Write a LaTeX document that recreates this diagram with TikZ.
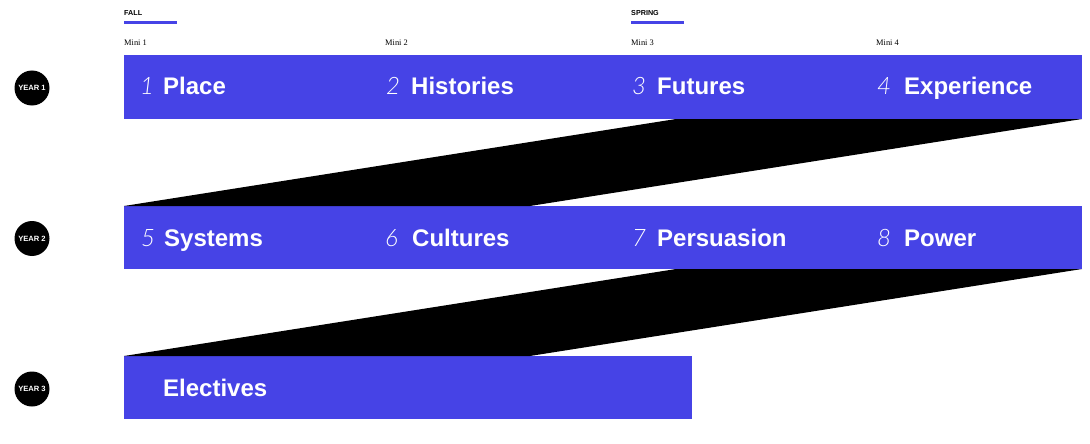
\documentclass[tikz,border=0pt]{standalone}
\usepackage{fontspec}
\setmainfont{Liberation Sans}
\newfontfamily\titlefont{Liberation Sans}
\newfontfamily\numfont{Lato Light}
\newfontfamily\minifont{Liberation Serif}
\definecolor{barblue}{RGB}{70,67,230}
\begin{document}
\begin{tikzpicture}[x=1pt,y=-1pt,
  bar/.style={fill=barblue, inner sep=0pt, outer sep=0pt, anchor=north west, minimum height=64pt},
  yearc/.style={circle, fill=black, text=white, inner sep=0pt, minimum size=35pt, font=\bfseries\fontsize{7.6}{8}\selectfont},
  numtxt/.style={anchor=base west, inner sep=0pt, text=white, font=\numfont\itshape\fontsize{24}{28}\selectfont},
  ttltxt/.style={anchor=base west, inner sep=0pt, text=white, font=\titlefont\bfseries\fontsize{24}{28}\selectfont},
  semtxt/.style={anchor=base west, inner sep=0pt, font=\bfseries\fontsize{7.2}{8}\selectfont},
  minitxt/.style={anchor=base west, inner sep=0pt, font=\minifont\fontsize{8.4}{9}\selectfont},
  underbar/.style={fill=barblue}
]
\useasboundingbox (0,0) rectangle (1090,444);
\fill[white] (0,0) rectangle (1090,444);

% header
\node[semtxt] (fall) at (124,16) {FALL};
\node[semtxt] (spring) at (631,16) {SPRING};
\fill[underbar] (124,21) rectangle (177,24);
\fill[underbar] (631,21) rectangle (684,24);
\node[minitxt] (m1) at (124,46) {Mini 1};
\node[minitxt] (m2) at (385,46) {Mini 2};
\node[minitxt] (m3) at (631,46) {Mini 3};
\node[minitxt] (m4) at (876,46) {Mini 4};

% bars
\node[bar, minimum width=958pt, minimum height=64pt] (bar1) at (124,55) {};
\node[bar, minimum width=958pt, minimum height=63pt] (bar2) at (124,206) {};
\node[bar, minimum width=568pt, minimum height=63pt] (bar3) at (124,356) {};

% connectors (black bands)
\coordinate (p1a) at ([xshift=-406pt]bar1.south east);
\coordinate (p1b) at ([xshift=406pt]bar2.north west);
\coordinate (p2a) at ([xshift=-406pt]bar2.south east);
\coordinate (p2b) at ([xshift=406pt]bar3.north west);
\fill[black] (bar1.south east) -- (p1a) -- (bar2.north west) -- (p1b) -- cycle;
\fill[black] (bar2.south east) -- (p2a) -- (bar3.north west) -- (p2b) -- cycle;

% year circles
\node[yearc] (y1) at (32,88) {YEAR 1};
\node[yearc] (y2) at (32,238.5) {YEAR 2};
\node[yearc] (y3) at (32,389) {YEAR 3};

% year 1 texts
\node[numtxt] (n1) at (140,95) {1};
\node[ttltxt] (t1) at (163,95) {Place};
\node[numtxt] (n2) at (386,95) {2};
\node[ttltxt] (t2) at (411,95) {Histories};
\node[numtxt] (n3) at (632,95) {3};
\node[ttltxt] (t3) at (657,95) {Futures};
\node[numtxt] (n4) at (877,95) {4};
\node[ttltxt] (t4) at (904,95) {Experience};

% year 2 texts
\node[numtxt] (n5) at (141,246) {5};
\node[ttltxt] (t5) at (164,246) {Systems};
\node[numtxt] (n6) at (385,246) {6};
\node[ttltxt] (t6) at (412,246) {Cultures};
\node[numtxt] (n7) at (632,246) {7};
\node[ttltxt] (t7) at (657,246) {Persuasion};
\node[numtxt] (n8) at (877,246) {8};
\node[ttltxt] (t8) at (904,246) {Power};

% year 3
\node[ttltxt] (t9) at (163,396) {Electives};
\end{tikzpicture}
\end{document}
